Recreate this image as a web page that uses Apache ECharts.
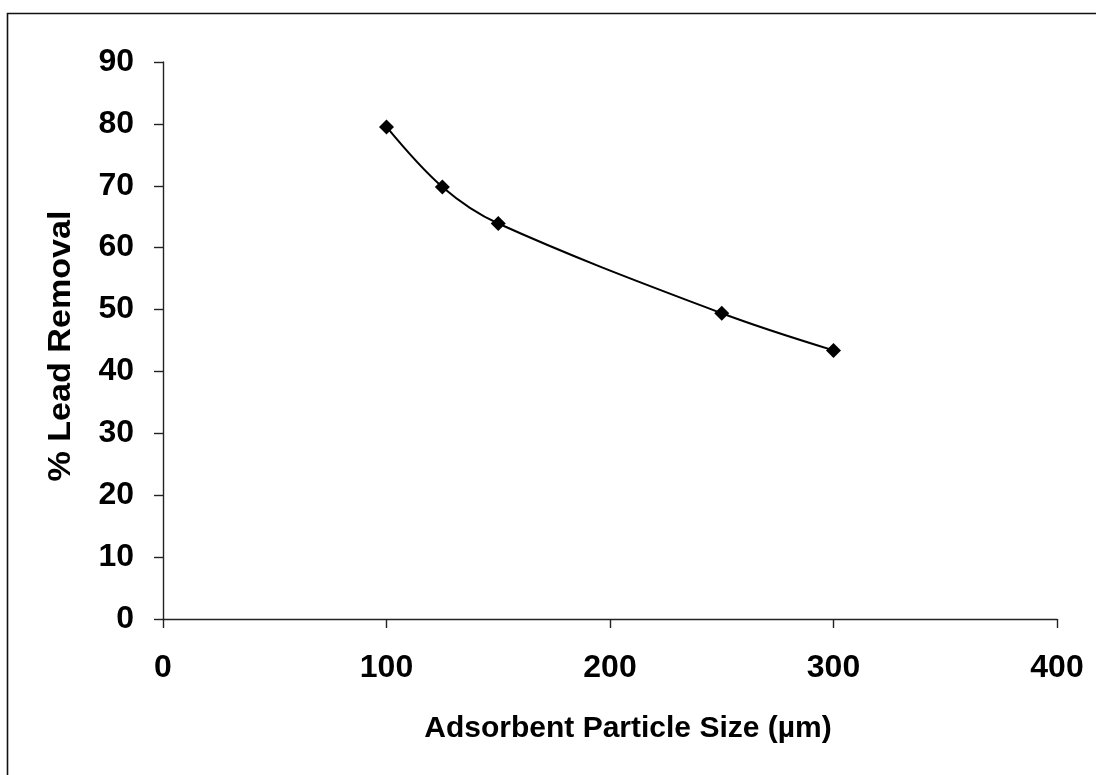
<!DOCTYPE html>
<html>
<head>
<meta charset="utf-8">
<script src="https://cdn.jsdelivr.net/npm/echarts@6/dist/echarts.min.js"></script>
<style>
  html, body { margin: 0; padding: 0; background: #fff; }
  #chart { width: 1096px; height: 775px; }
</style>
</head>
<body>
<div id="chart"></div>
<script>
// Particle size (µm) vs. lead removal (%)
const particleSize = [100, 125, 150, 250, 300];
const leadRemoval = [79.5, 69.8, 63.9, 49.4, 43.4];
const xTicks = [0, 100, 200, 300, 400];
const yTicks = [0, 10, 20, 30, 40, 50, 60, 70, 80, 90];
const xTitle = 'Adsorbent Particle Size (µm)';
const yTitle = '% Lead Removal';

const font = 'Liberation Sans, Arial, sans-serif';
const points = particleSize.map((x, i) => [x, leadRemoval[i]]);

const chart = echarts.init(document.getElementById('chart'), null, { renderer: 'canvas' });
chart.setOption({
  backgroundColor: '#ffffff',
  animation: false,
  graphic: [
    {
      // frame around the whole figure
      type: 'rect',
      shape: { x: 7.5, y: 13.5, width: 1300, height: 1000 },
      style: { fill: 'none', stroke: '#111', lineWidth: 1.6 },
      silent: true
    },
    {
      type: 'text',
      x: 628, y: 729,
      style: {
        text: xTitle, fill: '#000',
        font: 'bold 30px ' + font,
        align: 'center', verticalAlign: 'middle'
      },
      silent: true
    },
    {
      type: 'text',
      x: 61, y: 346,
      rotation: Math.PI / 2,
      scaleX: 1.1,
      style: {
        text: yTitle, fill: '#000',
        font: 'bold 31px ' + font,
        align: 'center', verticalAlign: 'middle'
      },
      silent: true
    }
  ],
  grid: { left: 163, right: 39, top: 62, bottom: 156, containLabel: false },
  xAxis: {
    type: 'value',
    min: xTicks[0],
    max: xTicks[xTicks.length - 1],
    interval: 100,
    axisLine: { show: true, lineStyle: { color: '#222', width: 1.4 } },
    axisTick: { show: true, length: 9, lineStyle: { color: '#222', width: 1.4 } },
    axisLabel: { fontFamily: font, fontWeight: 'bold', fontSize: 32, color: '#000', margin: 33 },
    splitLine: { show: false }
  },
  yAxis: {
    type: 'value',
    min: yTicks[0],
    max: yTicks[yTicks.length - 1],
    interval: 10,
    axisLine: { show: true, lineStyle: { color: '#222', width: 1.4 } },
    axisTick: { show: true, length: 9, lineStyle: { color: '#222', width: 1.4 } },
    axisLabel: { fontFamily: font, fontWeight: 'bold', fontSize: 32, color: '#000', margin: 29 },
    splitLine: { show: false }
  },
  series: [{
    type: 'line',
    data: points,
    smooth: 0.35,
    symbol: 'diamond',
    symbolSize: 15,
    itemStyle: { color: '#000' },
    lineStyle: { color: '#000', width: 2 }
  }]
});
</script>
</body>
</html>
